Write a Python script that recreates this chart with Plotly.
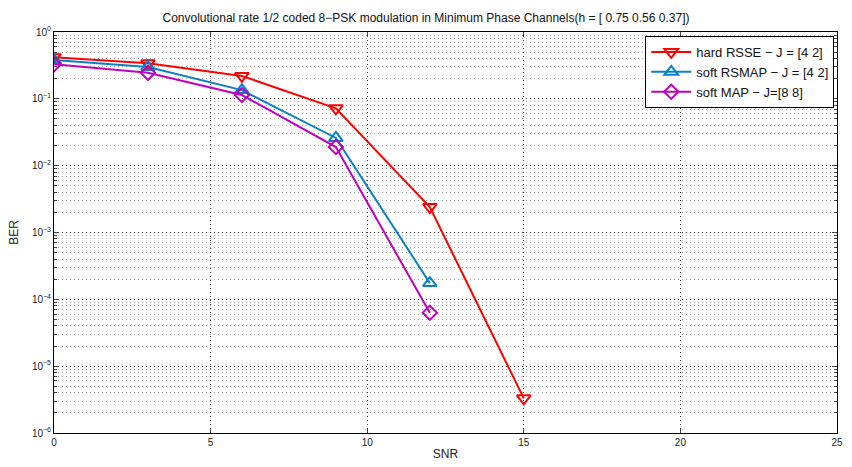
import plotly.graph_objects as go

snr = [0, 3, 6, 9, 12, 15]
hard_rsse = [0.42, 0.34, 0.22, 0.072, 0.0024, 3.3e-6]
snr_soft = [0, 3, 6, 9, 12]
soft_rsmap = [0.38, 0.30, 0.135, 0.026, 1.75e-4]
soft_map = [0.33, 0.245, 0.114, 0.019, 6.3e-5]

ytick_vals = [1e-6, 1e-5, 1e-4, 1e-3, 1e-2, 1e-1, 1e0]
ytick_text = ["10<sup>−6</sup>", "10<sup>−5</sup>", "10<sup>−4</sup>", "10<sup>−3</sup>",
              "10<sup>−2</sup>", "10<sup>−1</sup>", "10<sup>0</sup>"]
xtick_vals = [0, 5, 10, 15, 20, 25]

FONT = "Liberation Sans, Arial, Helvetica, sans-serif"

fig = go.Figure()
fig.add_trace(go.Scatter(x=snr, y=hard_rsse, mode="lines+markers",
                         name="hard RSSE − J = [4 2]",
                         line=dict(color="#ff0000", width=2),
                         marker=dict(symbol="triangle-down-open", size=12,
                                     color="#ff0000", line=dict(width=2))))
fig.add_trace(go.Scatter(x=snr_soft, y=soft_rsmap, mode="lines+markers",
                         name="soft RSMAP − J = [4 2]",
                         line=dict(color="#0a80c8", width=2),
                         marker=dict(symbol="triangle-up-open", size=12,
                                     color="#0a80c8", line=dict(width=2))))
fig.add_trace(go.Scatter(x=snr_soft, y=soft_map, mode="lines+markers",
                         name="soft MAP − J=[8 8]",
                         line=dict(color="#bf00bf", width=2),
                         marker=dict(symbol="diamond-open", size=11,
                                     color="#bf00bf", line=dict(width=2))))

fig.update_layout(
    width=852, height=467,
    margin=dict(l=54, r=9, t=32, b=34),
    paper_bgcolor="white", plot_bgcolor="white",
    font=dict(family=FONT, size=11, color="#222"),
    title=dict(text="Convolutional rate 1/2 coded 8−PSK modulation in Minimum Phase Channels(h = [ 0.75 0.56 0.37])",
               x=0.5, xanchor="center", y=0.962, yanchor="middle",
               font=dict(size=12, family=FONT, color="#111")),
    legend=dict(x=0.9965, xanchor="right", y=0.99, yanchor="top",
                bgcolor="white", bordercolor="black", borderwidth=1,
                font=dict(size=13, family=FONT, color="#111"),
                tracegroupgap=0, itemwidth=40),
    showlegend=True,
)
fig.update_xaxes(range=[0, 25], tickvals=xtick_vals, ticks="inside", ticklen=5,
                 showline=True, linecolor="black", linewidth=1, mirror="ticks",
                 showgrid=True, gridcolor="#444", griddash="1px,3px", gridwidth=1,
                 zeroline=False,
                 title=dict(text="SNR", standoff=2, font=dict(size=12)),
                 tickfont=dict(size=10))
fig.update_yaxes(type="log", range=[-6, 0], tickvals=ytick_vals, ticktext=ytick_text,
                 ticks="inside", ticklen=5,
                 showline=True, linecolor="black", linewidth=1, mirror="ticks",
                 showgrid=True, gridcolor="#333", griddash="1px,3px", gridwidth=1,
                 minor=dict(ticks="inside", ticklen=3, showgrid=True,
                            gridcolor="#aaa", griddash="1px,3px", gridwidth=1,
                            dtick="D1"),
                 zeroline=False,
                 title=dict(text="BER", standoff=10, font=dict(size=12)),
                 tickfont=dict(size=10))

fig.write_html("out.html")
